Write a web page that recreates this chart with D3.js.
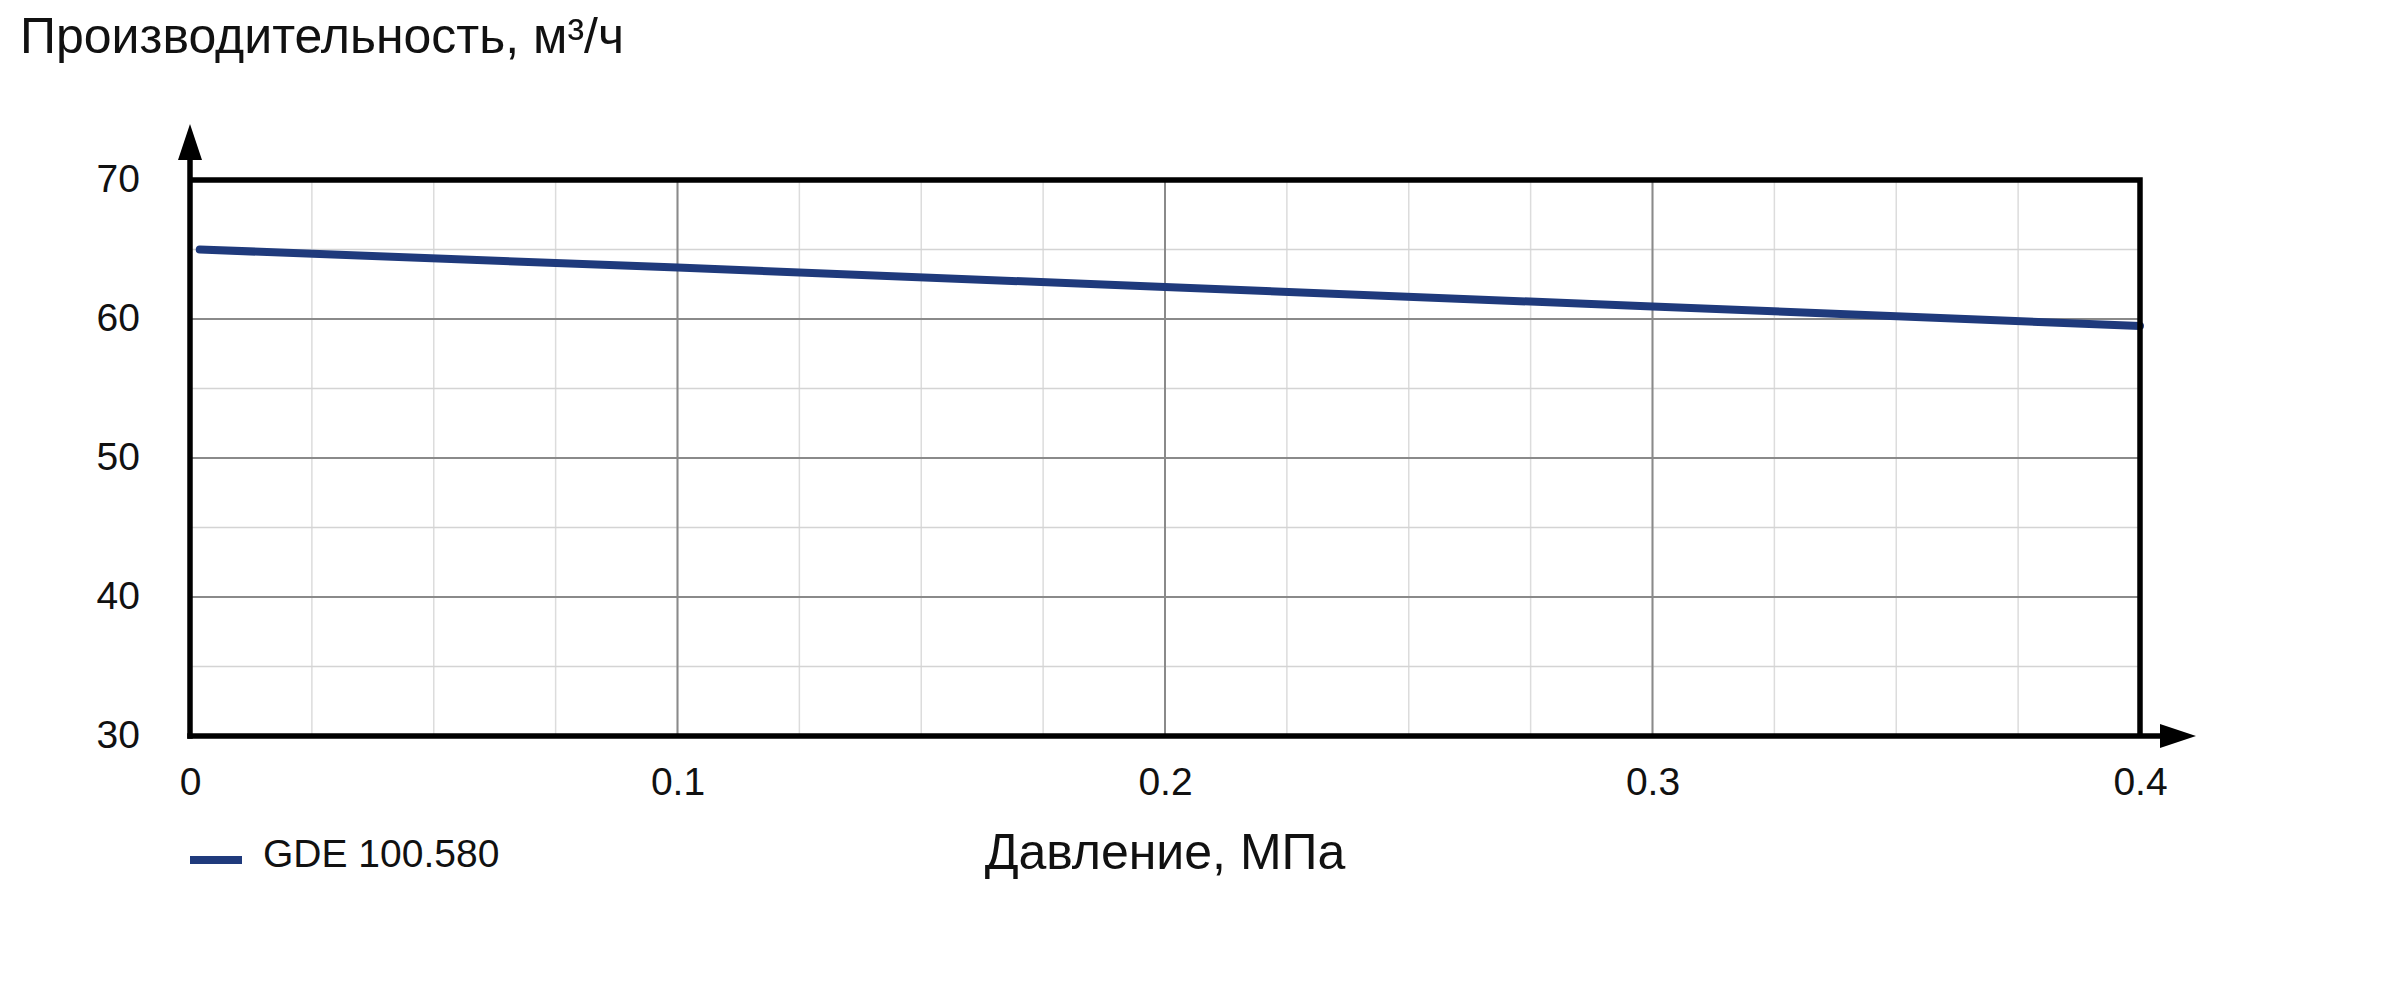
<!DOCTYPE html>
<html>
<head>
<meta charset="utf-8">
<script src="https://cdn.jsdelivr.net/npm/d3@7"></script>
<style>
  html, body { margin: 0; padding: 0; background: #fff; }
  svg { display: block; font-family: "Liberation Sans", Arial, sans-serif; }
</style>
</head>
<body>
<svg id="chart" width="2400" height="1000"></svg>
<script>
// ---- data ----
const seriesName = "GDE 100.580";
const pressure = [0.002, 0.1, 0.2, 0.3, 0.4];
const flow = [65.0, 63.7, 62.3, 60.9, 59.5];
const xTickValues = [0, 0.1, 0.2, 0.3, 0.4];
const xTickLabels = ["0", "0.1", "0.2", "0.3", "0.4"];
const yTickValues = [30, 40, 50, 60, 70];
const yTickLabels = ["30", "40", "50", "60", "70"];
const xMinorStep = 0.025;
const yMinorStep = 5;
const yTitle = "Производительность, м³/ч";
const xTitle = "Давление, МПа";

// ---- layout ----
const pL = 190, pR = 2140, pT = 180, pB = 736;
const lineColor = "#1f3a7c";

const svg = d3.select("#chart");
const x = d3.scaleLinear().domain([0, 0.4]).range([pL, pR]);
const y = d3.scaleLinear().domain([30, 70]).range([pB, pT]);

// minor grid
const xMinor = d3.range(0, 0.4 + 1e-9, xMinorStep);
const yMinor = d3.range(30, 70 + 1e-9, yMinorStep);
svg.append("g").selectAll("line").data(xMinor).join("line")
  .attr("x1", d => x(d)).attr("x2", d => x(d))
  .attr("y1", pT).attr("y2", pB)
  .attr("stroke", "#dcdcdc").attr("stroke-width", 1.5);
svg.append("g").selectAll("line").data(yMinor).join("line")
  .attr("x1", pL).attr("x2", pR)
  .attr("y1", d => y(d)).attr("y2", d => y(d))
  .attr("stroke", "#d4d4d4").attr("stroke-width", 1.5);

// major grid
svg.append("g").selectAll("line").data(xTickValues).join("line")
  .attr("x1", d => x(d)).attr("x2", d => x(d))
  .attr("y1", pT).attr("y2", pB)
  .attr("stroke", "#8a8a8a").attr("stroke-width", 2);
svg.append("g").selectAll("line").data(yTickValues).join("line")
  .attr("x1", pL).attr("x2", pR)
  .attr("y1", d => y(d)).attr("y2", d => y(d))
  .attr("stroke", "#8a8a8a").attr("stroke-width", 2);

// series line
const pts = pressure.map((p, i) => [p, flow[i]]);
svg.append("path")
  .datum(pts)
  .attr("fill", "none")
  .attr("stroke", lineColor)
  .attr("stroke-width", 8)
  .attr("stroke-linecap", "round")
  .attr("stroke-linejoin", "round")
  .attr("d", d3.line().x(d => x(d[0])).y(d => y(d[1])));

// frame (top & right)
svg.append("path")
  .attr("d", `M${pL},${pT}H${pR}V${pB}`)
  .attr("fill", "none").attr("stroke", "#000").attr("stroke-width", 5.5);

// axes
const axL = svg.append("g").attr("transform", `translate(${pL},0)`)
  .call(d3.axisLeft(y).tickValues(yTickValues)
    .tickFormat((d, i) => yTickLabels[i]).tickSize(0).tickPadding(50));
axL.select(".domain").remove();
axL.selectAll("text").attr("font-size", 39).attr("fill", "#111")
  .attr("font-family", "'Liberation Sans', Arial, sans-serif").attr("dy", "0.29em");

const axB = svg.append("g").attr("transform", `translate(0,${pB})`)
  .call(d3.axisBottom(x).tickValues(xTickValues)
    .tickFormat((d, i) => xTickLabels[i]).tickSize(0).tickPadding(31));
axB.select(".domain").remove();
axB.selectAll("text").attr("font-size", 39).attr("fill", "#111")
  .attr("font-family", "'Liberation Sans', Arial, sans-serif");

// axis lines with arrows
svg.append("line").attr("x1", pL).attr("x2", pL)
  .attr("y1", 150).attr("y2", pB + 2.75)
  .attr("stroke", "#000").attr("stroke-width", 5.5);
svg.append("line").attr("x1", pL - 2.75).attr("x2", 2165)
  .attr("y1", pB).attr("y2", pB)
  .attr("stroke", "#000").attr("stroke-width", 5.5);
svg.append("path").attr("d", `M${pL},124L${pL + 12},160L${pL - 12},160Z`).attr("fill", "#000");
svg.append("path").attr("d", `M2196,${pB}L2160,${pB - 12}L2160,${pB + 12}Z`).attr("fill", "#000");

// titles
svg.append("text").attr("x", 20).attr("y", 53)
  .attr("font-size", 50).attr("fill", "#111").text(yTitle);
svg.append("text").attr("x", (pL + pR) / 2).attr("y", 869)
  .attr("text-anchor", "middle")
  .attr("font-size", 50).attr("fill", "#111").text(xTitle);

// legend
svg.append("line").attr("x1", 190).attr("x2", 242).attr("y1", 860).attr("y2", 860)
  .attr("stroke", lineColor).attr("stroke-width", 8);
svg.append("text").attr("x", 263).attr("y", 867)
  .attr("font-size", 39).attr("fill", "#111").text(seriesName);
</script>
</body>
</html>
